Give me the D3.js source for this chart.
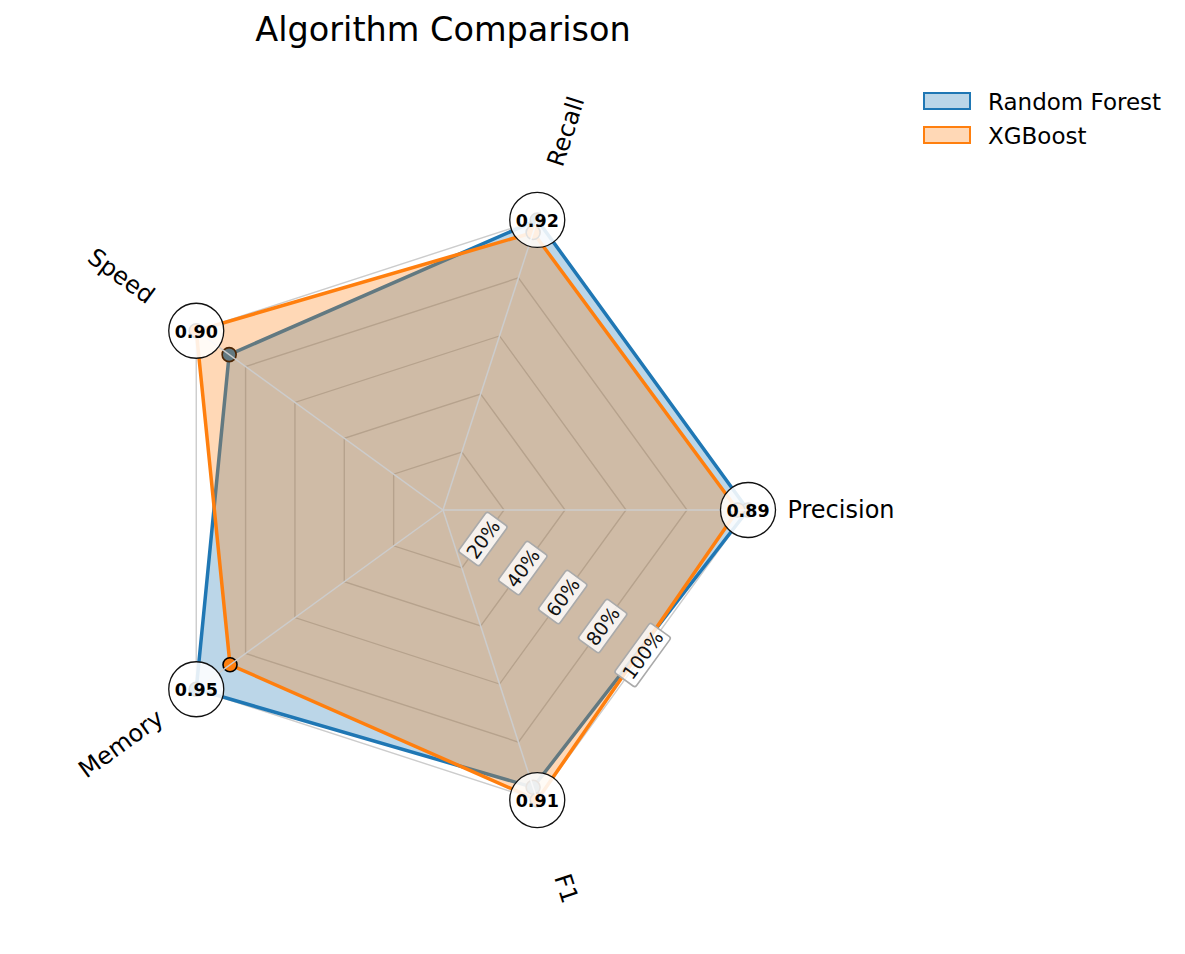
<!DOCTYPE html>
<html>
<head>
<meta charset="utf-8">
<script src="https://cdn.jsdelivr.net/npm/d3@7"></script>
<style>
  body { margin: 0; background: #fff; }
  svg { display: block; font-family: "DejaVu Sans", sans-serif; }
</style>
</head>
<body>
<svg id="svg" width="1185" height="954"></svg>
<script>
// chart data
const axisNames = ["Precision", "Recall", "Speed", "Memory", "F1"];
const rfValues = [0.89, 0.92, 0.78, 0.95, 0.87];
const xgbValues = [0.86, 0.88, 0.90, 0.82, 0.91];
const seriesNames = ["Random Forest", "XGBoost"];
const seriesColors = ["#1f77b4", "#ff7f0e"];
const ringLevels = [0.2, 0.4, 0.6, 0.8, 1.0];
const ringLabels = ["20%", "40%", "60%", "80%", "100%"];

const svg = d3.select('#svg');
const cx = 443, cy = 510;
const R = 305;

// each axis is scaled by its best value
const maxVals = axisNames.map((_, i) => Math.max(rfValues[i], xgbValues[i]));
const series = [rfValues, xgbValues].map(vals => vals.map((v, i) => v / maxVals[i]));

const r = d3.scaleLinear().domain([0, 1]).range([0, R]);
const angle = d3.scaleLinear().domain([0, axisNames.length]).range([0, 2 * Math.PI]);

function pt(i, v) {
    const a = angle(i);
    return [cx + r(v) * Math.cos(a), cy - r(v) * Math.sin(a)];
}

const line = d3.line();

// rings (under the fills)
svg.append('g').selectAll('path')
    .data(ringLevels)
    .join('path')
    .attr('d', lv => line(axisNames.map((_, i) => pt(i, lv))) + 'Z')
    .attr('fill', 'none')
    .attr('stroke', '#cccccc')
    .attr('stroke-width', 1.4);

// series
series.forEach((vals, s) => {
    const g = svg.append('g');
    const pts = vals.map((v, i) => pt(i, v));
    g.append('path')
        .attr('d', line(pts) + 'Z')
        .attr('fill', seriesColors[s])
        .attr('fill-opacity', 0.3)
        .attr('stroke', 'none');
    g.append('path')
        .attr('d', line(pts) + 'Z')
        .attr('fill', 'none')
        .attr('stroke', seriesColors[s])
        .attr('stroke-width', 3.5)
        .attr('stroke-linejoin', 'miter');
    g.selectAll('circle')
        .data(pts)
        .join('circle')
        .attr('cx', d => d[0])
        .attr('cy', d => d[1])
        .attr('r', 7)
        .attr('fill', seriesColors[s])
        .attr('stroke', '#000')
        .attr('stroke-width', 1.6);
});

// spokes
svg.append('g').selectAll('line')
    .data(axisNames)
    .join('line')
    .attr('x1', cx).attr('y1', cy)
    .attr('x2', (d, i) => pt(i, 1)[0])
    .attr('y2', (d, i) => pt(i, 1)[1])
    .attr('stroke', '#cccccc')
    .attr('stroke-width', 1.5);

// ring percentage labels, on the edge between F1 and Precision
const labAng = -36 * Math.PI / 180;
const rl = svg.append('g').selectAll('g')
    .data(ringLevels)
    .join('g')
    .attr('transform', lv => {
        const d = r(lv) * Math.cos(36 * Math.PI / 180);
        return `translate(${cx + d * Math.cos(labAng)},${cy - d * Math.sin(labAng)}) rotate(-54)`;
    });
rl.append('text')
    .attr('text-anchor', 'middle')
    .attr('dominant-baseline', 'central')
    .attr('font-size', 19)
    .attr('fill', '#111')
    .text((d, i) => ringLabels[i]);
rl.each(function () {
    const g = d3.select(this);
    const bb = g.select('text').node().getBBox();
    const pad = 3.5;
    g.insert('rect', 'text')
        .attr('x', bb.x - pad).attr('y', bb.y - pad + 1.5)
        .attr('width', bb.width + 2 * pad).attr('height', bb.height + 2 * pad - 3)
        .attr('rx', 2.5)
        .attr('fill', '#fff').attr('fill-opacity', 0.8)
        .attr('stroke', '#aaaaaa').attr('stroke-width', 1.6);
});

// value badges at the outer ring
const badges = svg.append('g').selectAll('g')
    .data(maxVals)
    .join('g')
    .attr('transform', (d, i) => `translate(${pt(i, 1)[0]},${pt(i, 1)[1]})`);
badges.append('circle')
    .attr('r', 27.5)
    .attr('fill', '#fff').attr('fill-opacity', 0.88)
    .attr('stroke', '#111').attr('stroke-width', 1.3);
badges.append('text')
    .attr('text-anchor', 'middle')
    .attr('dominant-baseline', 'central')
    .attr('y', 1)
    .attr('font-size', 17.5)
    .attr('font-weight', 'bold')
    .text(d => d.toFixed(2));

// axis names
svg.append('g').selectAll('text')
    .data(axisNames)
    .join('text')
    .attr('transform', (d, i) => {
        const p = pt(i, 398 / R);
        let deg = angle(i) * 180 / Math.PI;
        if (deg > 90 && deg < 270) deg -= 180;
        else if (deg >= 270) deg -= 360;
        return `translate(${p[0]},${p[1]}) rotate(${-deg})`;
    })
    .attr('text-anchor', 'middle')
    .attr('dominant-baseline', 'central')
    .attr('font-size', 24)
    .text(d => d);

// title
svg.append('text')
    .attr('x', cx).attr('y', 41)
    .attr('text-anchor', 'middle')
    .attr('font-size', 33.5)
    .text('Algorithm Comparison');

// legend
const leg = svg.append('g').selectAll('g')
    .data(seriesNames)
    .join('g')
    .attr('transform', (d, i) => `translate(924,${93 + i * 34})`);
leg.append('rect')
    .attr('width', 46).attr('height', 16)
    .attr('fill', (d, i) => seriesColors[i]).attr('fill-opacity', 0.3)
    .attr('stroke', (d, i) => seriesColors[i]).attr('stroke-width', 2);
leg.append('text')
    .attr('x', 64).attr('y', 9)
    .attr('dominant-baseline', 'central')
    .attr('font-size', 23)
    .text(d => d);
</script>
</body>
</html>
